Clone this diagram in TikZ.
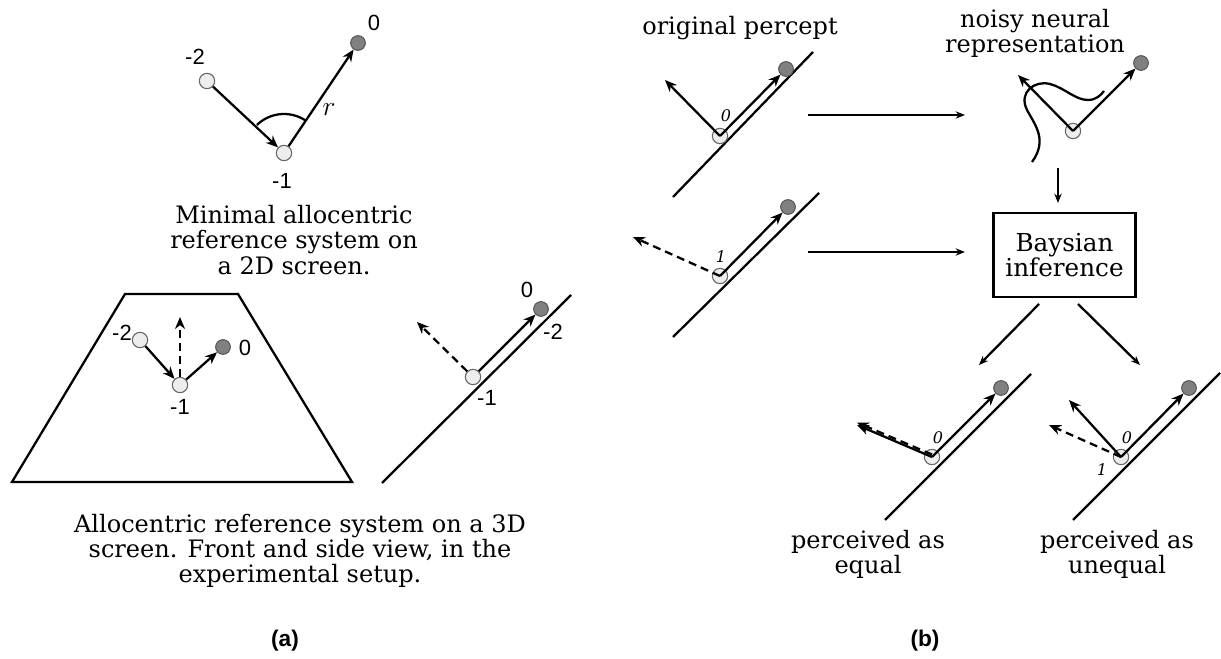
\documentclass[tikz,border=0pt]{standalone}
\usepackage{fontspec}
\setmainfont{DejaVu Serif}
\newfontfamily\labf{Liberation Sans}
\usetikzlibrary{arrows.meta}
\begin{document}
\begin{tikzpicture}[x=0.75pt,y=-0.75pt,
  lc/.style={circle,draw=black!60,fill=black!7,line width=0.8pt,minimum size=11.5pt,inner sep=0pt},
  dc/.style={circle,draw=black!65,fill=black!50,line width=0.8pt,minimum size=11pt,inner sep=0pt},
  arr/.style={line width=1.7pt,-{Stealth[length=9pt,width=7.5pt]}},
  darr/.style={arr,dash pattern=on 6pt off 3.8pt},
  tarr/.style={line width=1.7pt,-{Stealth[length=7pt,width=5.5pt]}},
  rail/.style={line width=1.7pt},
  num/.style={font=\labf\fontsize{16.5}{16.5}\selectfont,inner sep=0pt},
  txt/.style={font=\fontsize{18}{18.8}\selectfont,align=center,inner sep=0pt},
  sm/.style={font=\fontsize{12}{12}\selectfont\itshape,inner sep=0pt},
  panlab/.style={font=\labf\bfseries\fontsize{17}{17}\selectfont,inner sep=0pt},
]
\useasboundingbox (0,0) rectangle (1221,659);
% ---------- (a) top ----------
\node[lc] (t2) at (207,81) {};
\node[lc] (t1) at (284,153) {};
\node[dc] (t0) at (358,43) {};
\draw[arr] (t2) -- (t1);
\draw[arr] (t1) -- (t0);
\draw[line width=1.7pt] ([shift={(-134:39)}]t1.center) arc[start angle=-134,end angle=-57,radius=39];
\node[num] (lt2) at (195,57) {-2};
\node[num] (lt0) at (374,23) {0};
\node[num] (lt1) at (282,181) {-1};
\node[font=\fontsize{21}{21}\selectfont,inner sep=0pt] (lr) at (329,110) {$r$};
\node[txt] (capA1) at (294,240) {Minimal allocentric\\reference system on\\a 2D screen.};
% ---------- (a) front view ----------
\draw[line width=1.7pt] (125,294) -- (238,294) -- (352,482) -- (12,482) -- cycle;
\node[lc] (f2) at (140,340) {};
\node[lc] (f1) at (180,385) {};
\node[dc] (f0) at (223,347) {};
\coordinate (fu) at (180,317);
\draw[arr] (f2) -- (f1);
\draw[arr] (f1) -- (f0);
\draw[darr] (f1) -- (fu);
\node[num] (lf2) at (122,333) {-2};
\node[num] (lf0) at (245,348) {0};
\node[num] (lf1) at (180,407) {-1};
% ---------- (a) side view ----------
\draw[rail] (382,483) -- (571,295);
\node[lc] (s1) at (473,377) {};
\node[dc] (s0) at (541,309) {};
\coordinate (sd) at (417,322);
\draw[arr] (s1) -- (s0);
\draw[darr] (s1) -- (sd);
\node[num] (ls0) at (527,290) {0};
\node[num] (ls2) at (553,332) {-2};
\node[num] (ls1) at (487,398) {-1};
\node[txt] (capA2) at (300,551) {Allocentric reference system on a 3D\\screen. Front and side view, in the\\experimental setup.};
\node[panlab] (pa) at (285,641) {(a)};
% ---------- (b) ----------
\node[txt] (op) at (740,28) {original percept};
\node[txt] (nn) at (1035,33) {noisy neural\\representation};
% unit A
\draw[rail] (673,197) -- (813,52);
\node[lc] (A0) at (720,136) {};
\node[dc] (A1) at (786,69) {};
\coordinate (Ap) at (665,80);
\draw[arr] (A0.center) -- (A1);
\draw[arr] (A0.center) -- (Ap);
\node[sm] (lA) at (726,116) {0};
% unit B
\draw[rail] (673,337) -- (819,193);
\node[lc] (B0) at (720,276) {};
\node[dc] (B1) at (788,207) {};
\coordinate (Bp) at (633,237);
\draw[arr] (B0.center) -- (B1);
\draw[darr] (B0.center) -- (Bp);
\node[sm] (lB) at (721,257) {1};
% horizontal arrows
\coordinate (h1s) at (808,115); \coordinate (h1e) at (965,115);
\coordinate (h2s) at (808,252); \coordinate (h2e) at (965,252);
\draw[tarr] (h1s) -- (h1e);
\draw[tarr] (h2s) -- (h2e);
% unit C
\node[lc] (C0) at (1073,131) {};
\node[dc] (C1) at (1141,63) {};
\coordinate (Cp) at (1018,75);
\draw[arr] (C0.center) -- (C1);
\draw[arr] (C0.center) -- (Cp);
\draw[line width=1.7pt] (1032,162) .. controls (1048,140) and (1035,125) .. (1027,110)
  .. controls (1018,92) and (1035,80) .. (1050,84)
  .. controls (1065,88) and (1075,100) .. (1088,100)
  .. controls (1096,100) and (1101,95) .. (1104,91);
% down arrow and box
\coordinate (ds) at (1058,168); \coordinate (de) at (1058,203);
\draw[tarr] (ds) -- (de);
\node[draw,line width=2.2pt,minimum width=107pt,minimum height=63pt,align=center,
  font=\fontsize{18.5}{18.8}\selectfont,inner sep=0pt] (bay) at (1064.5,255) {Baysian\\inference};
\coordinate (g1s) at (1039,304); \coordinate (g1e) at (979,365);
\coordinate (g2s) at (1078,304); \coordinate (g2e) at (1140,365);
\draw[tarr] (g1s) -- (g1e);
\draw[tarr] (g2s) -- (g2e);
% unit D
\draw[rail] (885,520) -- (1031,374);
\node[lc] (D0) at (932,457) {};
\node[dc] (D1) at (1001,388) {};
\coordinate (Dp) at (857,425);
\draw[arr] (D0.center) -- (D1);
\draw[arr] (D0.center) -- (Dp);
\draw[darr] ([shift={(0,-2.5)}]D0.center) -- ([shift={(0,-2.5)}]Dp);
\node[sm] (lD) at (938,438) {0};
% unit E
\draw[rail] (1073,520) -- (1220,373);
\node[lc] (E0) at (1121,457) {};
\node[dc] (E1) at (1189,388) {};
\coordinate (Ep) at (1069,400);
\coordinate (Eq) at (1049,425);
\draw[arr] (E0.center) -- (E1);
\draw[arr] (E0.center) -- (Ep);
\draw[darr] (E0.center) -- (Eq);
\node[sm] (lE0) at (1127,438) {0};
\node[sm] (lE1) at (1102,470) {1};
\node[txt] (pe) at (868,554) {perceived as\\equal};
\node[txt] (pu) at (1117,554) {perceived as\\unequal};
\node[panlab] (pb) at (925,641) {(b)};
\end{tikzpicture}
\end{document}
